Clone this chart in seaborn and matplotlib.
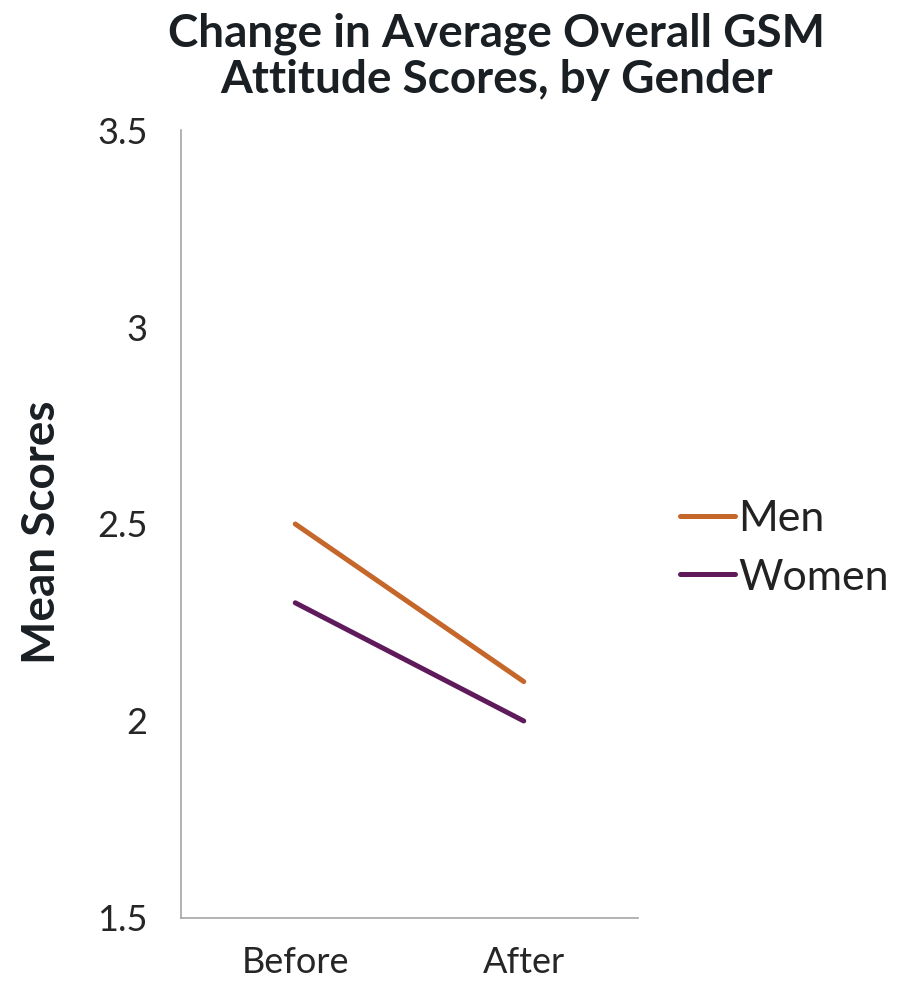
import pandas as pd
import matplotlib.pyplot as plt
import seaborn as sns

# values
periods = ['Before', 'After']
men = [2.5, 2.1]
women = [2.3, 2.0]
groups = ['Men', 'Women']
colors = ['#C5662A', '#5E1A5A']

df = pd.DataFrame({'Period': periods * 2,
                   'Score': men + women,
                   'Gender': ['Men'] * 2 + ['Women'] * 2})

sns.set_style('white')
plt.rcParams['font.family'] = ['Lato', 'DejaVu Sans']

fig = plt.figure(figsize=(9.06, 9.82), dpi=100)
ax = fig.add_axes([0.1998, 0.0652, 0.5044, 0.8024])

sns.lineplot(data=df, x='Period', y='Score', hue='Gender', hue_order=groups,
             palette=colors, linewidth=3.6, sort=False, ax=ax, legend=True)

ax.set_xlim(-0.5, 1.5)
ax.set_ylim(1.5, 3.5)
ax.set_yticks([1.5, 2, 2.5, 3, 3.5])
ax.set_yticklabels(['1.5', '2', '2.5', '3', '3.5'])
ax.tick_params(axis='both', length=0, labelsize=26, colors='#262626')
ax.tick_params(axis='x', pad=20)
ax.tick_params(axis='y', pad=24)
for s in ['top', 'right']:
    ax.spines[s].set_visible(False)
for s in ['left', 'bottom']:
    ax.spines[s].set_color('#A6A6A6')
    ax.spines[s].set_linewidth(1.2)

ax.set_xlabel('')
ax.set_ylabel('Mean Scores', fontsize=33, fontweight='bold', color='#1a1f24')
ax.yaxis.set_label_coords(-0.258, 0.49)
fig.suptitle('Change in Average Overall GSM\nAttitude Scores, by Gender',
             fontsize=33, fontweight='bold', color='#1a1f24', x=0.548, y=0.987, linespacing=1.1)

handles, labels = ax.get_legend_handles_labels()
ax.legend(handles, labels, loc='center left', bbox_to_anchor=(0.7506, 0.4415),
          bbox_transform=fig.transFigure, frameon=False, fontsize=31,
          borderpad=0, borderaxespad=0,
          handlelength=1.28, handletextpad=0.08, labelspacing=0.47, labelcolor='#222222')

plt.savefig('out.png', dpi=100)
